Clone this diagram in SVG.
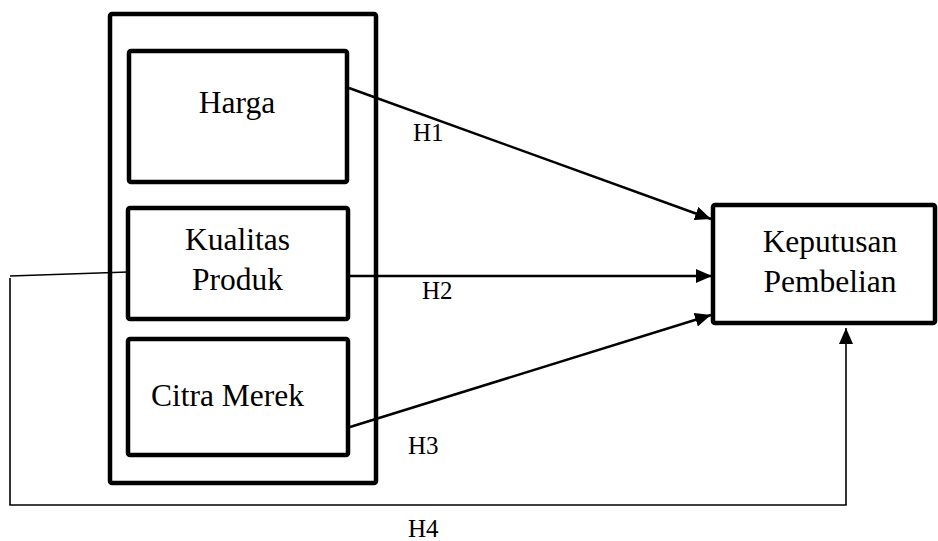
<svg xmlns="http://www.w3.org/2000/svg" width="938" height="541" viewBox="0 0 938 541">
  <style>
    .box { fill: #fff; stroke: #000; stroke-width: 4.5; stroke-linejoin: round; }
    .lbl { font-family: "Liberation Serif", "Times New Roman", serif; font-size: 31.5px; fill: #000; }
    .h { font-family: "Liberation Serif", "Times New Roman", serif; font-size: 25px; fill: #000; }
    .arrow { fill: none; stroke: #000; stroke-width: 2.5; }
    .thin { fill: none; stroke: #000; stroke-width: 1.6; }
  </style>
  <defs>
    <marker id="ah" viewBox="0 0 16 14" refX="16" refY="7" markerWidth="16" markerHeight="14" markerUnits="userSpaceOnUse" orient="auto">
      <path d="M0,0 L16,7 L0,14 z" fill="#000"/>
    </marker>
  </defs>
  <rect width="938" height="541" fill="#fff"/>

  <g id="group-independent">
    <rect class="box" x="110" y="14" width="266" height="469" rx="2"/>
  </g>

  <g id="node-harga">
    <rect class="box" x="129" y="51" width="218" height="131" rx="2"/>
    <text class="lbl" x="237" y="113" text-anchor="middle">Harga</text>
  </g>

  <g id="node-kualitas">
    <rect class="box" x="128" y="208" width="220" height="111" rx="2"/>
    <text class="lbl" x="237.5" y="250" text-anchor="middle">Kualitas</text>
    <text class="lbl" x="237.5" y="290" text-anchor="middle">Produk</text>
  </g>

  <g id="node-citra">
    <rect class="box" x="128" y="339" width="220" height="116" rx="2"/>
    <text class="lbl" x="151" y="406">Citra Merek</text>
  </g>

  <g id="node-keputusan">
    <rect class="box" x="713" y="205" width="222" height="118" rx="2"/>
    <text class="lbl" x="830" y="252" text-anchor="middle">Keputusan</text>
    <text class="lbl" x="830" y="292" text-anchor="middle">Pembelian</text>
  </g>

  <g id="connectors">
    <line class="arrow" x1="349" y1="88" x2="711" y2="219" marker-end="url(#ah)"/>
    <line class="arrow" x1="350" y1="276" x2="712" y2="276" marker-end="url(#ah)"/>
    <line class="arrow" x1="350" y1="427" x2="711" y2="315" marker-end="url(#ah)"/>
    <line class="thin" x1="10" y1="276" x2="128" y2="272"/>
    <polyline class="thin" points="10,278 10,505 846,505 846,328" marker-end="url(#ah)"/>
  </g>

  <g id="labels">
    <text class="h" x="413" y="141">H1</text>
    <text class="h" x="422" y="299">H2</text>
    <text class="h" x="408" y="454">H3</text>
    <text class="h" x="408" y="537">H4</text>
  </g>
</svg>
